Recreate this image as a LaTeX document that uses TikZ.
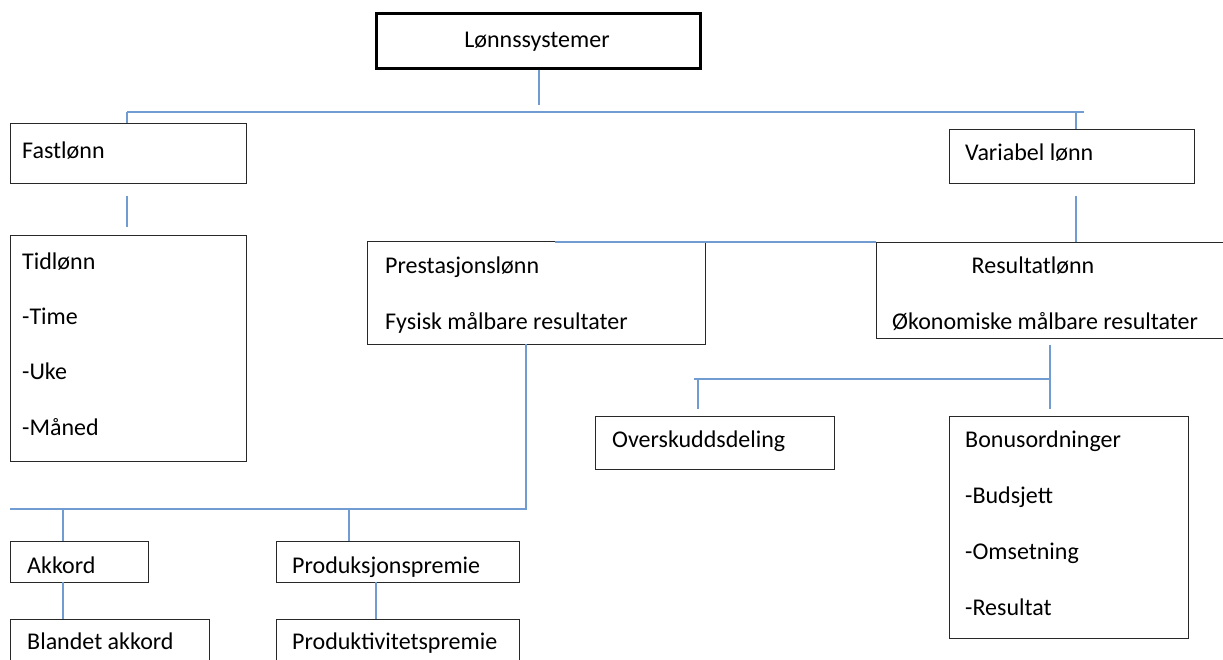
\documentclass[tikz,border=0pt]{standalone}
\usepackage{fontspec}
\setmainfont{Carlito}
\usetikzlibrary{calc}
\definecolor{conn}{RGB}{112,156,210}
\definecolor{boxline}{RGB}{40,40,40}
\tikzset{
  box/.style={draw=boxline, line width=1.4pt, fill=white, inner sep=0pt, anchor=north west},
  topbox/.style={box, draw=black, line width=3pt},
  txt/.style={anchor=west, inner sep=0pt, font=\fontsize{24}{28}\selectfont, text height=17pt, text depth=5pt},
  ctxt/.style={txt, anchor=center},
  link/.style={draw=conn, line width=1.8pt}
}
\begin{document}
\begin{tikzpicture}[x=1pt,y=-1pt]
\clip (0,0) rectangle (1223,660);
\fill[white] (0,0) rectangle (1223,660);

% boxes
\node[topbox, minimum width=324pt, minimum height=55pt] (top) at (375,12) {};
\node[box, minimum width=236pt, minimum height=60pt] (fast) at (10,123) {};
\node[box, minimum width=236pt, minimum height=226pt] (tid) at (10,235) {};
\node[box, minimum width=245pt, minimum height=54pt] (var) at (949,129) {};
\node[box, minimum width=338pt, minimum height=103pt] (prest) at (367,241) {};
\node[box, minimum width=360pt, minimum height=96pt] (res) at (876,242) {};
\node[box, minimum width=239pt, minimum height=53pt] (over) at (595,416) {};
\node[box, minimum width=239pt, minimum height=222pt] (bonus) at (949,416) {};
\node[box, minimum width=138pt, minimum height=41pt] (akk) at (10,541) {};
\node[box, minimum width=243pt, minimum height=41pt] (prod) at (276,541) {};
\node[box, minimum width=199pt, minimum height=60pt] (bland) at (10,619) {};
\node[box, minimum width=243pt, minimum height=60pt] (prodk) at (276,619) {};

% texts
\node[ctxt] (tTop) at (537,42) {Lønnssystemer};
\node[txt] (tFast) at (22,153) {Fastlønn};
\node[txt] (tTid1) at (22,264) {Tidlønn};
\node[txt] (tTid2) at (22,318) {-Time};
\node[txt] (tTid3) at (22,373) {-Uke};
\node[txt] (tTid4) at (22,429) {-Måned};
\node[txt] (tVar) at (965,155) {Variabel lønn};
\node[txt] (tPre1) at (385,268) {Prestasjonslønn};
\node[txt] (tPre2) at (385,323) {Fysisk målbare resultater};
\node[ctxt] (tRes1) at (1033,268) {Resultatlønn};
\node[txt] (tRes2) at (892,323) {Økonomiske målbare resultater};
\node[txt] (tOver) at (612,441) {Overskuddsdeling};
\node[txt] (tBon1) at (965,441) {Bonusordninger};
\node[txt] (tBon2) at (965,497) {-Budsjett};
\node[txt] (tBon3) at (965,553) {-Omsetning};
\node[txt] (tBon4) at (965,609) {-Resultat};
\node[txt] (tAkk) at (27,567) {Akkord};
\node[txt] (tProd) at (292,567) {Produksjonspremie};
\node[txt] (tBland) at (27,643) {Blandet akkord};
\node[txt] (tProdk) at (292,643) {Produktivitetspremie};

% coordinates
\coordinate (b1top) at (539,105);
\coordinate (b1L) at (127,112);
\coordinate (b1R) at (1084,112);
\coordinate (b1V) at (1076,112);
\coordinate (vDrop) at (1076,129);
\coordinate (f1) at (127,196);
\coordinate (f2) at (127,227);
\coordinate (v1) at (1076,196);
\coordinate (b2R) at (1076,242);
\coordinate (b2L) at (555,242);
\coordinate (p1) at (526,344);
\coordinate (p2) at (526,509);
\coordinate (p3) at (10,509);
\coordinate (pa) at (63,509);
\coordinate (pa2) at (63,541);
\coordinate (pp) at (349,509);
\coordinate (pp2) at (349,541);
\coordinate (ab1) at (63,582);
\coordinate (ab2) at (63,619);
\coordinate (pk1) at (376,582);
\coordinate (pk2) at (376,619);
\coordinate (r1) at (1050,345);
\coordinate (r2) at (1050,379);
\coordinate (r3) at (1050,409);
\coordinate (o1) at (694,379);
\coordinate (o2) at (698,379);
\coordinate (o3) at (698,409);

% connectors
\draw[link] (top.south -| b1top) -- (b1top);
\draw[link] (b1L) -- (b1R);
\draw[link] (b1L) -- (fast.north -| b1L);
\draw[link] (b1V) -- (vDrop);
\draw[link] (f1) -- (f2);
\draw[link] (v1) -- (b2R);
\draw[link] (b2L) -- (res.north west);
\draw[link] (p1) -- (p2) -- (p3);
\draw[link] (pa) -- (pa2);
\draw[link] (pp) -- (pp2);
\draw[link] (ab1) -- (ab2);
\draw[link] (pk1) -- (pk2);
\draw[link] (r1) -- (r3);
\draw[link] (o1) -- (r2);
\draw[link] (o2) -- (o3);
\end{tikzpicture}
\end{document}
